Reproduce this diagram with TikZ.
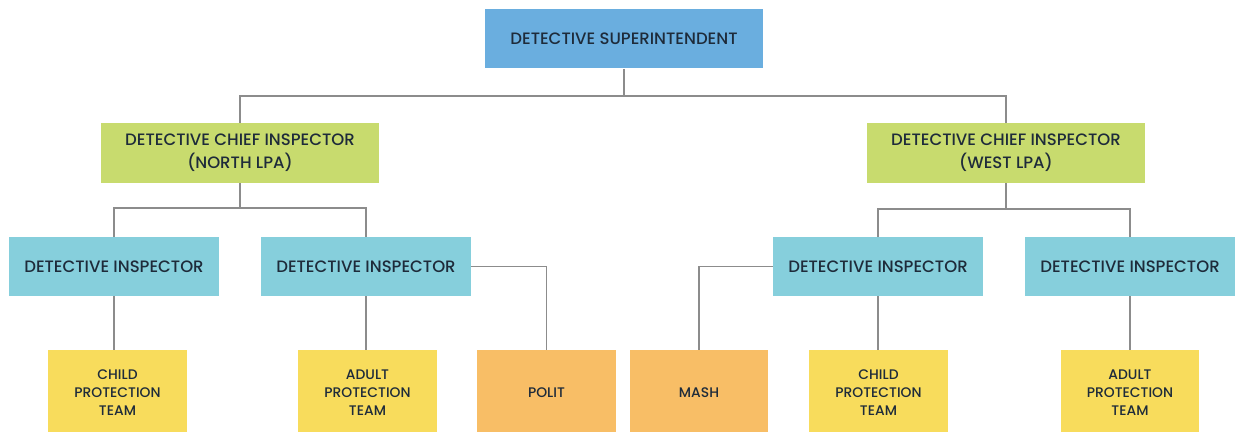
\documentclass[tikz,border=0pt]{standalone}
\usepackage{fontspec}
\setmainfont{Poppins}[UprightFont=* Medium,BoldFont=* SemiBold]
\usetikzlibrary{positioning}
\definecolor{supblue}{HTML}{6AAEDF}
\definecolor{dcigreen}{HTML}{C8DB6E}
\definecolor{diteal}{HTML}{86CFDC}
\definecolor{teamyellow}{HTML}{F8DC5C}
\definecolor{teamorange}{HTML}{F8BE66}
\definecolor{inknavy}{HTML}{1E2B3A}
\definecolor{linegray}{HTML}{8C8C8C}
\begin{document}
\begin{tikzpicture}[x=0.02cm,y=-0.02cm,font=\fontsize{9.4}{13}\selectfont,
  box/.style={inner sep=0pt,align=center,text=inknavy},
  supbox/.style={box,fill=supblue,minimum width=5.56cm,minimum height=1.2cm},
  dcibox/.style={box,fill=dcigreen,minimum width=5.56cm,minimum height=1.2cm},
  dibox/.style={box,fill=diteal,minimum width=4.2cm,minimum height=1.18cm},
  teambox/.style={box,minimum width=2.78cm,minimum height=1.72cm,font=\fontsize{7.9}{10.2}\selectfont},
  link/.style={draw=linegray,line width=0.8pt}]
\useasboundingbox (0,0) rectangle (1235,432);
\clip (0,0) rectangle (1235,432);
\node[supbox] (sup) at (624,38.5) {DETECTIVE SUPERINTENDENT};
\node[dcibox] (dcin) at (240,153) {DETECTIVE CHIEF INSPECTOR\\(NORTH LPA)};
\node[dcibox] (dciw) at (1006,153) {DETECTIVE CHIEF INSPECTOR\\(WEST LPA)};
\node[dibox] (di1) at (114,266.5) {DETECTIVE INSPECTOR};
\node[dibox] (di2) at (366,266.5) {DETECTIVE INSPECTOR};
\node[dibox] (di3) at (878,266.5) {DETECTIVE INSPECTOR};
\node[dibox] (di4) at (1130,266.5) {DETECTIVE INSPECTOR};
\node[teambox,fill=teamyellow] (cpt1) at (117.5,393) {CHILD\\PROTECTION\\TEAM};
\node[teambox,fill=teamyellow] (apt1) at (367.5,393) {ADULT\\PROTECTION\\TEAM};
\node[teambox,fill=teamorange] (polit) at (546.5,393) {POLIT};
\node[teambox,fill=teamorange] (mash) at (699,393) {MASH};
\node[teambox,fill=teamyellow] (cpt2) at (878.5,393) {CHILD\\PROTECTION\\TEAM};
\node[teambox,fill=teamyellow] (apt2) at (1130,393) {ADULT\\PROTECTION\\TEAM};
\coordinate (j1) at (624,96);
\coordinate (j2) at (240,208);
\coordinate (j3) at (1006,209);
\draw[link] (sup.south) -- (j1) -| (dcin.north);
\draw[link] (j1) -| (dciw.north);
\draw[link] (dcin.south) -- (j2) -| (di1.north);
\draw[link] (j2) -| (di2.north);
\draw[link] (dciw.south) -- (j3) -| (di3.north);
\draw[link] (j3) -| (di4.north);
\draw[link] (di1.south) -- (di1.south|-cpt1.north);
\draw[link] (di2.south) -- (di2.south|-apt1.north);
\draw[link] (di3.south) -- (di3.south|-cpt2.north);
\draw[link] (di4.south) -- (di4.south|-apt2.north);
\draw[link] (di2.east) -| (polit.north);
\draw[link] (di3.west) -| (mash.north);
\end{tikzpicture}
\end{document}
